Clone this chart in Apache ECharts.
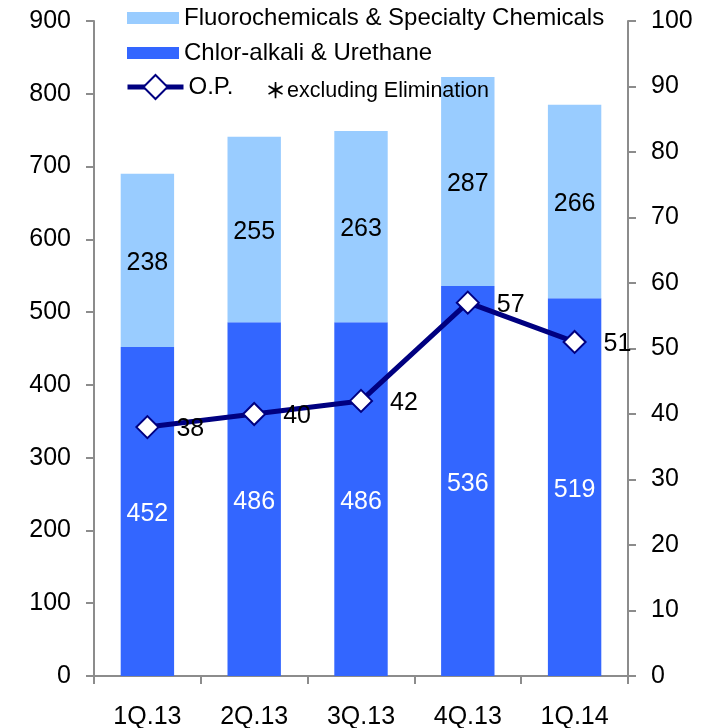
<!DOCTYPE html>
<html>
<head>
<meta charset="utf-8">
<style>
  html, body { margin: 0; padding: 0; background: #ffffff; }
  #chart { width: 715px; height: 728px; }
</style>
<script src="https://cdn.jsdelivr.net/npm/echarts@6/dist/echarts.min.js"></script>
</head>
<body>
<div id="chart"></div>
<script>
// Quarterly sales by segment (bars, left axis) and operating profit (line, right axis)
const quarters = ['1Q.13', '2Q.13', '3Q.13', '4Q.13', '1Q.14'];
const chlorAlkali = [452, 486, 486, 536, 519];
const fluoroSpecialty = [238, 255, 263, 287, 266];
const operatingProfit = [38, 40, 42, 57, 51];

const leftTicks = { min: 0, max: 900, interval: 100 };
const rightTicks = { min: 0, max: 100, interval: 10 };

const FONT = '"Liberation Sans", Arial, sans-serif';
const AXIS_GREY = '#8c8c8c';
const DARK_BLUE = '#3366ff';
const LIGHT_BLUE = '#99ccff';
const NAVY = '#000080';

const chart = echarts.init(document.getElementById('chart'), null, { renderer: 'canvas' });

const yAxisCommon = {
  type: 'value',
  splitLine: { show: false },
  axisLine: { show: true, lineStyle: { color: AXIS_GREY, width: 2 } },
  axisTick: { show: true, inside: false, length: 8, lineStyle: { color: AXIS_GREY, width: 2 } },
  axisLabel: { color: '#000', fontSize: 25, fontFamily: FONT, margin: 23 }
};

const barLabel = (color) => ({
  show: true, position: 'inside', offset: [0, 3], color: color, fontSize: 25, fontFamily: FONT
});

chart.setOption({
  animation: false,
  backgroundColor: '#ffffff',
  textStyle: { fontFamily: FONT },
  grid: { left: 94, right: 87, top: 21, bottom: 52, containLabel: false, outerBoundsMode: 'none' },
  legend: [
    {
      data: ['Fluorochemicals & Specialty Chemicals', 'Chlor-alkali & Urethane'],
      orient: 'vertical',
      left: 127,
      top: 6,
      padding: 0,
      icon: 'rect',
      itemWidth: 52,
      itemHeight: 12,
      itemGap: 11,
      itemTextGap: 5,
      selectedMode: false,
      textStyle: { fontSize: 24, lineHeight: 24, color: '#000', fontFamily: FONT }
    },
    {
      data: [{
        name: 'O.P.',
        lineStyle: { color: NAVY, width: 5 },
        itemStyle: { color: '#ffffff', borderColor: NAVY, borderWidth: 2 }
      }],
      orient: 'vertical',
      left: 125,
      top: 74,
      padding: 0,
      itemWidth: 56,
      itemHeight: 30,
      itemTextGap: 4,
      selectedMode: false,
      textStyle: { fontSize: 24, lineHeight: 24, color: '#000', fontFamily: FONT }
    }
  ],
  xAxis: {
    type: 'category',
    data: quarters,
    axisLine: { show: true, lineStyle: { color: AXIS_GREY, width: 2 } },
    axisTick: { show: true, inside: false, length: 8, interval: 0, lineStyle: { color: AXIS_GREY, width: 2 } },
    axisLabel: { color: '#000', fontSize: 25, fontFamily: FONT, margin: 29, interval: 0 }
  },
  yAxis: [
    Object.assign({}, yAxisCommon, { position: 'left' }, leftTicks),
    Object.assign({}, yAxisCommon, { position: 'right' }, rightTicks)
  ],
  series: [
    {
      name: 'Chlor-alkali & Urethane',
      type: 'bar',
      stack: 'sales',
      barWidth: '50%',
      data: chlorAlkali,
      itemStyle: { color: DARK_BLUE },
      label: barLabel('#ffffff')
    },
    {
      name: 'Fluorochemicals & Specialty Chemicals',
      type: 'bar',
      stack: 'sales',
      barWidth: '50%',
      data: fluoroSpecialty,
      itemStyle: { color: LIGHT_BLUE },
      label: barLabel('#000000')
    },
    {
      name: 'O.P.',
      type: 'line',
      yAxisIndex: 1,
      data: operatingProfit,
      symbol: 'diamond',
      symbolSize: 22,
      z: 5,
      lineStyle: { color: NAVY, width: 5 },
      itemStyle: { color: '#ffffff', borderColor: NAVY, borderWidth: 2 },
      label: { show: true, position: 'right', distance: 17, offset: [0, 2], color: '#000', fontSize: 25, fontFamily: FONT }
    }
  ],
  graphic: [
    {
      type: 'text',
      z: 100,
      left: 265,
      top: 80,
      style: { text: '＊', fill: '#000', font: 'bold 21px "Noto Sans CJK JP", sans-serif' }
    },
    {
      type: 'text',
      z: 100,
      left: 287,
      top: 80,
      style: { text: 'excluding Elimination', fill: '#000', font: '21.5px "Liberation Sans", Arial, sans-serif' }
    }
  ]
});
</script>
</body>
</html>
